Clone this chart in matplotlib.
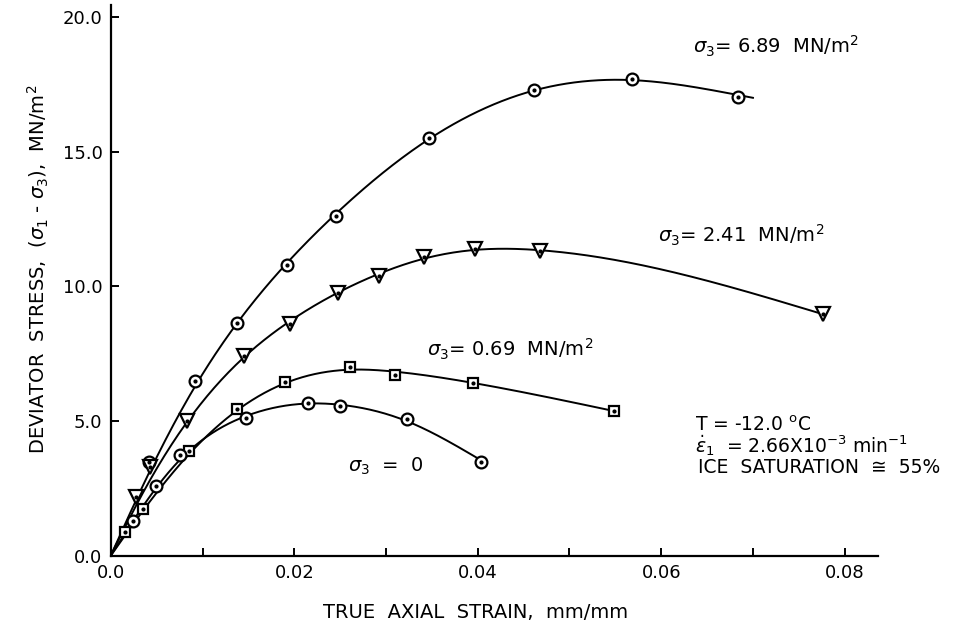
import numpy as np
import matplotlib
matplotlib.use('Agg')
import matplotlib.pyplot as plt

# strain (mm/mm) and deviator stress (MN/m^2)
x_689 = [0.0042, 0.0092, 0.0138, 0.0192, 0.0245, 0.0347, 0.0461, 0.0568, 0.0684]
y_689 = [3.5, 6.5, 8.65, 10.8, 12.6, 15.5, 17.3, 17.7, 17.05]
end_689 = 0.0700   # the drawn curve runs a bit past the last point

x_241 = [0.0027, 0.0043, 0.0083, 0.0145, 0.0195, 0.0248, 0.0292, 0.0341, 0.0397, 0.0468, 0.0776]
y_241 = [2.2, 3.3, 5.0, 7.4, 8.6, 9.75, 10.4, 11.1, 11.4, 11.3, 8.96]

x_069 = [0.0015, 0.0035, 0.0085, 0.0138, 0.0190, 0.0261, 0.0310, 0.0395, 0.0548]
y_069 = [0.9, 1.75, 3.9, 5.45, 6.45, 7.0, 6.7, 6.4, 5.37]

x_0 = [0.0024, 0.0049, 0.0075, 0.0147, 0.0215, 0.0250, 0.0323, 0.0404]
y_0 = [1.3, 2.6, 3.75, 5.1, 5.67, 5.56, 5.07, 3.48]

x_ticks = [0.0, 0.02, 0.04, 0.06, 0.08]
y_ticks = [0.0, 5.0, 10.0, 15.0, 20.0]


def smooth_curve(xs, ys, x_end, lam, n=400):
    # penalised least squares curve (hand-drawn fit), pinned at the origin
    x = np.concatenate([[0.0], xs])
    y = np.concatenate([[0.0], ys])
    w = np.ones_like(x)
    w[0] = 50.0
    xx = np.linspace(0, x_end, n)
    dx = xx[1] - xx[0]
    W = np.zeros((len(x), n))
    for i, xv in enumerate(x):
        j = min(int(xv / dx), n - 2)
        t = (xv - xx[j]) / dx
        W[i, j] = 1 - t
        W[i, j + 1] = t
    D = (np.eye(n, k=0)[:-2] - 2 * np.eye(n, k=1)[:-2] + np.eye(n, k=2)[:-2]) / dx**2
    A = W.T @ (w[:, None] * W) + lam * dx * D.T @ D
    f = np.linalg.solve(A, W.T @ (w * y))
    return xx, f


fig = plt.figure(figsize=(9.72, 6.33), dpi=100)
ax = fig.add_axes([0.114, 0.122, 0.789, 0.870])

series = [
    (x_689, y_689, end_689, 'o', 8.5, 8e-8),
    (x_241, y_241, x_241[-1], 'v', 10, 8e-8),
    (x_069, y_069, x_069[-1], 's', 7.5, 8e-8),
    (x_0, y_0, x_0[-1], 'o', 8.5, 3e-8),
]
for xs, ys, xe, m, ms, lam in series:
    xx, yy = smooth_curve(xs, ys, xe, lam)
    ax.plot(xx, yy, color='black', linewidth=1.4, zorder=2)
    ax.plot(xs, ys, linestyle='none', marker=m, markersize=ms,
            markerfacecolor='white', markeredgecolor='black',
            markeredgewidth=1.6, zorder=3)
    ax.plot(xs, ys, linestyle='none', marker='o', markersize=2,
            color='black', zorder=4)

ax.set_xlim(0, 0.0836)
ax.set_ylim(0, 20.45)
ax.set_xticks(np.arange(0.01, 0.081, 0.01), minor=True)
ax.set_xticks(x_ticks)
ax.set_xticklabels(['0.0', '0.02', '0.04', '0.06', '0.08'])
ax.set_yticks(y_ticks)
ax.set_yticklabels(['0.0', '5.0', '10.0', '15.0', '20.0'])
ax.tick_params(direction='in', length=6, width=1.4, labelsize=13, pad=6)
ax.tick_params(which='minor', direction='in', length=6, width=1.4)
for s in ['top', 'right']:
    ax.spines[s].set_visible(False)
for s in ['left', 'bottom']:
    ax.spines[s].set_linewidth(1.6)

ax.set_xlabel('TRUE  AXIAL  STRAIN,  mm/mm', fontsize=14)
ax.xaxis.set_label_coords(0.475, -0.085)
ax.set_ylabel(r'DEVIATOR  STRESS,  ($\sigma_1$ - $\sigma_3$),  MN/m$^2$',
              fontsize=14)
ax.yaxis.set_label_coords(-0.078, 0.52)

fs = 14
ax.text(0.0635, 18.9, r'$\sigma_3$= 6.89  MN/m$^2$', fontsize=fs, va='center')
ax.text(0.0596, 11.9, r'$\sigma_3$= 2.41  MN/m$^2$', fontsize=fs, va='center')
ax.text(0.0345, 7.67, r'$\sigma_3$= 0.69  MN/m$^2$', fontsize=fs, va='center')
ax.text(0.0259, 3.33, r'$\sigma_3$  =  0', fontsize=fs, va='center')
ax.text(0.0637, 4.85, r'T = -12.0 $^\mathrm{o}$C', fontsize=13.5, va='center')
ax.text(0.0637, 4.08, r'$\dot{\epsilon}_1$  = 2.66X10$^{-3}$ min$^{-1}$',
        fontsize=13.5, va='center')
ax.text(0.0640, 3.26, 'ICE  SATURATION  \u2245  55%', fontsize=13.5, va='center')

fig.savefig('out.png', dpi=100)
